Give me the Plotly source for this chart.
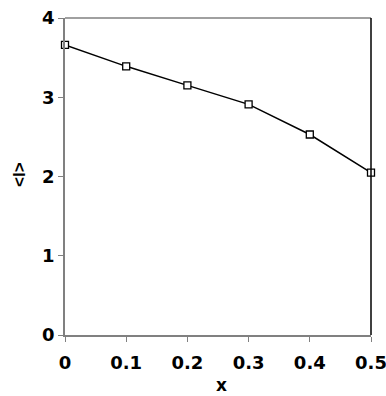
import plotly.graph_objects as go

x_vals = [0, 0.1, 0.2, 0.3, 0.4, 0.5]
l_vals = [3.66, 3.39, 3.15, 2.91, 2.53, 2.05]
x_ticks = [0, 0.1, 0.2, 0.3, 0.4, 0.5]
x_tick_labels = ["0", "0.1", "0.2", "0.3", "0.4", "0.5"]
y_ticks = [0, 1, 2, 3, 4]
x_title = "x"
y_title = "&lt;l&gt;"

tick_font = "DejaVu Sans"
title_font = "Liberation Sans, Arial, sans-serif"

fig = go.Figure()
fig.add_trace(go.Scatter(
    x=x_vals, y=l_vals, mode="lines+markers",
    line=dict(color="black", width=1.5),
    marker=dict(symbol="square", size=7, color="white", line=dict(width=1.3, color="black")),
    showlegend=False, cliponaxis=False,
))

fig.update_layout(
    width=386, height=396,
    margin=dict(l=65, r=15, t=18, b=61),
    paper_bgcolor="white", plot_bgcolor="white",
    font=dict(family=tick_font, color="black"),
    xaxis=dict(
        range=[0, 0.5], tickvals=x_ticks, ticktext=[f"<b>{t}</b>" for t in x_tick_labels],
        showgrid=False, zeroline=False, showline=True, linecolor="#808080", linewidth=1.5,
        ticks="outside", ticklen=5, tickcolor="#808080", tickwidth=1,
        tickfont=dict(size=18, family=tick_font, color="black"),
        ticklabelstandoff=6, ticklabeloverflow="allow",
        automargin=False,
    ),
    yaxis=dict(
        range=[0, 4], tickvals=y_ticks, ticktext=[f"<b>{t}</b>" for t in y_ticks],
        showgrid=False, zeroline=False, showline=True, linecolor="#808080", linewidth=1.5,
        ticks="outside", ticklen=5, tickcolor="#808080", tickwidth=1,
        tickfont=dict(size=18, family=tick_font, color="black"),
        ticklabelstandoff=0, ticklabeloverflow="allow",
        automargin=False,
    ),
    annotations=[
        dict(text=f"<b>{x_title}</b>", xref="paper", yref="paper", x=0.51, y=-0.197,
             xanchor="center", yanchor="bottom", showarrow=False,
             font=dict(size=17, family=tick_font, color="black")),
        dict(text=f"<b>{y_title}</b>", xref="paper", yref="paper", x=-0.147, y=0.505,
             xanchor="center", yanchor="middle", showarrow=False, textangle=-90,
             font=dict(size=17, family=title_font, color="black")),
    ],
)
fig.add_shape(type="line", xref="paper", yref="paper", x0=0, x1=1, y0=1, y1=1,
              line=dict(color="#808080", width=1.5))
fig.add_shape(type="line", xref="paper", yref="paper", x0=1, x1=1, y0=0, y1=1,
              line=dict(color="black", width=1.5))

fig.write_html("out.html", config={"displayModeBar": False},
               post_script="document.body.style.margin='0';")
